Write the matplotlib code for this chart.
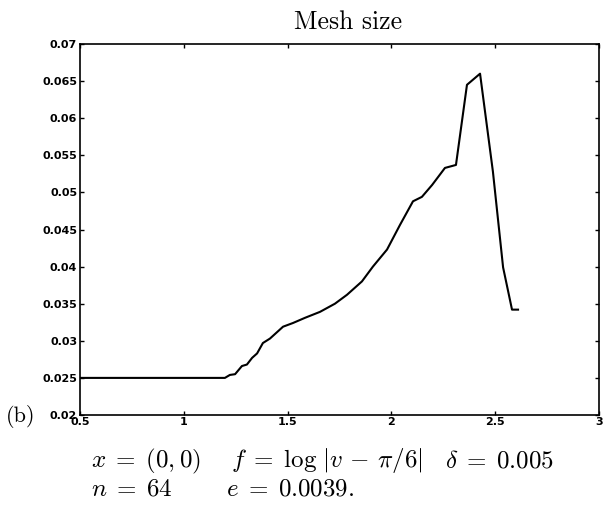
import numpy as np
import matplotlib
matplotlib.use("Agg")
import matplotlib.pyplot as plt

plt.rcParams['mathtext.fontset'] = 'cm'

# mesh size curve
xs = [0.50, 1.198, 1.222, 1.247, 1.280, 1.304, 1.329, 1.353, 1.381, 1.415,
      1.478, 1.526, 1.584, 1.656, 1.728, 1.786, 1.858, 1.911, 1.979, 2.041,
      2.104, 2.147, 2.196, 2.258, 2.311, 2.364, 2.427, 2.489, 2.538, 2.581, 2.610]
mesh = [0.0250, 0.0250, 0.0254, 0.0255, 0.0266, 0.0268, 0.0277, 0.0283, 0.0297, 0.0303,
        0.0319, 0.0324, 0.0331, 0.0339, 0.0350, 0.0362, 0.0380, 0.0400, 0.0423, 0.0456,
        0.0488, 0.0494, 0.0510, 0.0533, 0.0537, 0.0645, 0.0660, 0.0528, 0.0399, 0.0342, 0.0342]

xticks = [0.5, 1, 1.5, 2, 2.5, 3]
xtick_labels = ["0.5", "1", "1.5", "2", "2.5", "3"]
yticks = [0.02, 0.025, 0.03, 0.035, 0.04, 0.045, 0.05, 0.055, 0.06, 0.065, 0.07]
ytick_labels = ["0.02", "0.025", "0.03", "0.035", "0.04", "0.045", "0.05",
                "0.055", "0.06", "0.065", "0.07"]

W, H = 604, 507
fig = plt.figure(figsize=(W / 100, H / 100), dpi=100)
ax = fig.add_axes([80 / W, 1 - 415 / H, 519 / W, 371 / H])

ax.plot(xs, mesh, color="black", lw=1.5)
ax.set_xlim(0.5, 3)
ax.set_ylim(0.02, 0.07)
ax.set_xticks(xticks)
ax.set_xticklabels(xtick_labels)
ax.set_yticks(yticks)
ax.set_yticklabels(ytick_labels)
ax.tick_params(direction="in", length=3, width=1, top=True, right=True,
               labelsize=8, colors="black")
ax.tick_params(axis="x", pad=1.5)
ax.tick_params(axis="y", pad=2)
for lab in ax.get_xticklabels() + ax.get_yticklabels():
    lab.set_fontweight("bold")
for s in ax.spines.values():
    s.set_linewidth(1.2)

fig.text(348 / W, 1 - 22 / H, "Mesh size", family="cmr10", fontsize=18.5,
         ha="center", va="center")
fig.text(6 / W, 1 - 416 / H, "(b)", family="cmr10", fontsize=16,
         ha="left", va="center")

# caption lines, baselines in pixels
ty1 = 1 - 467 / H
ty2 = 1 - 495 / H
fs = 18
fig.text(91 / W, ty1, r"$x\;=\;(0,0)$", fontsize=fs, ha="left", va="baseline")
fig.text(231 / W, ty1, r"$f\;=\;\log\,|v\,-\,\pi/6|$", fontsize=fs, ha="left", va="baseline")
fig.text(445 / W, ty1, r"$\delta\;=\;0.005$", fontsize=fs, ha="left", va="baseline")
fig.text(91 / W, ty2, r"$n\;=\;64$", fontsize=fs, ha="left", va="baseline")
fig.text(226 / W, ty2, r"$e\;=\;0.0039.$", fontsize=fs, ha="left", va="baseline")

fig.savefig("out.png", dpi=100)
